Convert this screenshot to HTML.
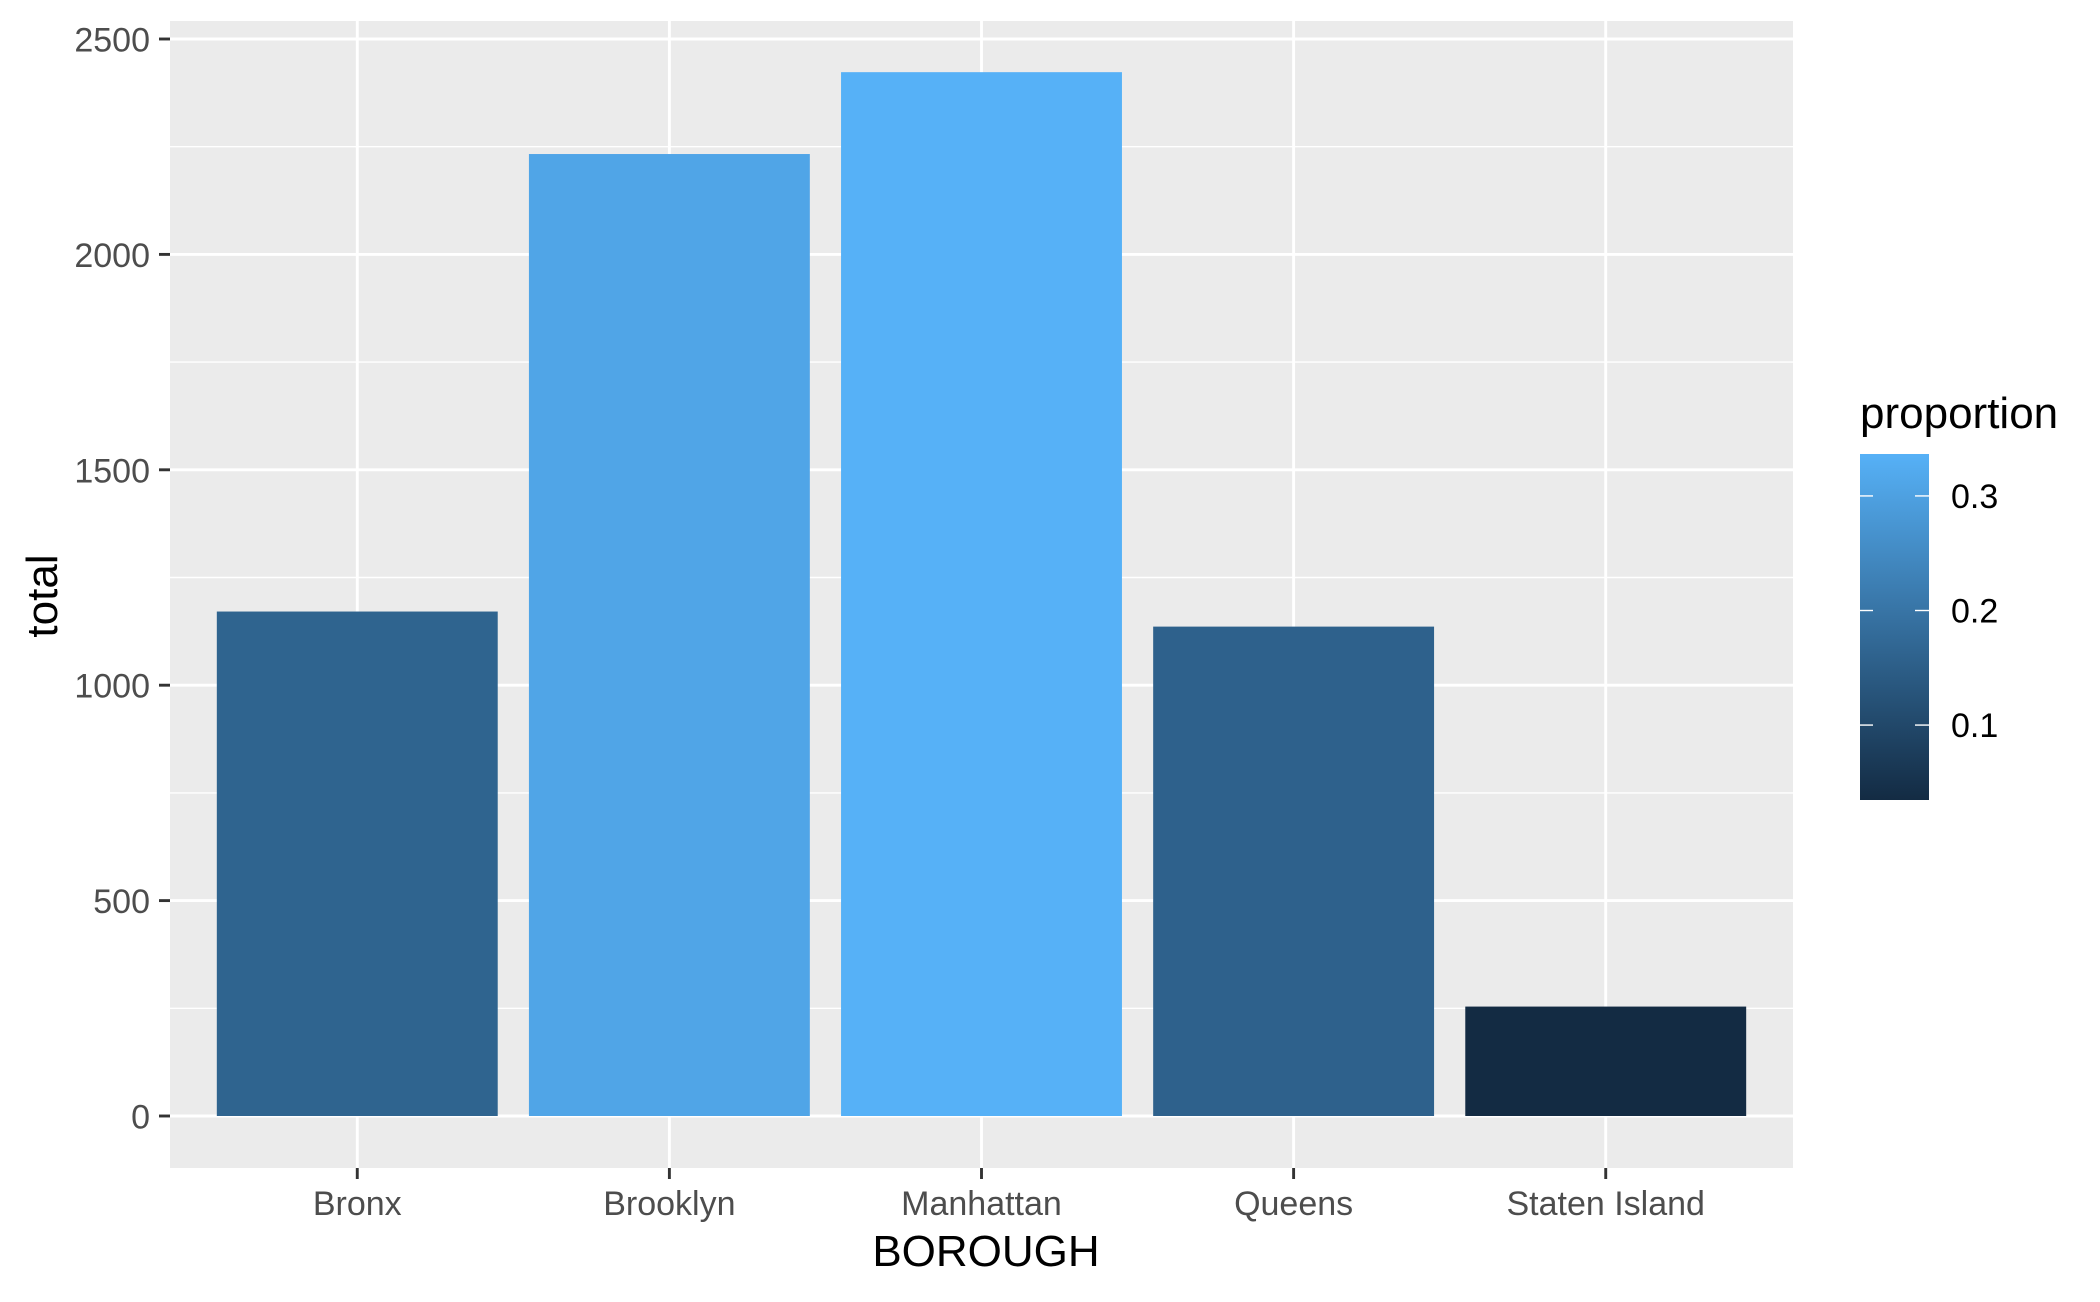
<!DOCTYPE html>
<html><head><meta charset="utf-8"><style>
html,body{margin:0;padding:0;background:#fff;}
svg text{font-family:"Liberation Sans",Arial,sans-serif;}
</style></head><body>
<svg id="chart" width="2100" height="1297" viewBox="0 0 2100 1297" xmlns="http://www.w3.org/2000/svg">
<rect x="170" y="21" width="1623" height="1147" fill="#ebebeb"/>
<g id="grid"></g><g id="bars"></g><g id="axes"></g>
<text x="986" y="1266" font-size="44" text-anchor="middle" fill="#000">BOROUGH</text>
<text transform="translate(57,596) rotate(-90)" font-size="44" text-anchor="middle" fill="#000">total</text>
<defs><linearGradient id="lg" x1="0" y1="1" x2="0" y2="0">
<stop offset="0" stop-color="#132B43"/><stop offset="1" stop-color="#56B1F7"/></linearGradient></defs>
<g id="legend">
<text x="1860" y="428" font-size="44" fill="#000">proportion</text>
<rect x="1860" y="454" width="69" height="346" fill="url(#lg)"/>
</g>
</svg>
<script>
const categories = ["Bronx","Brooklyn","Manhattan","Queens","Staten Island"];
const totals = [1171, 2233, 2423, 1136, 254];
const proportions = [0.162, 0.309, 0.336, 0.157, 0.035];
const yTicks = [0, 500, 1000, 1500, 2000, 2500];
const legendTicks = [0.1, 0.2, 0.3];
const NS = "http://www.w3.org/2000/svg";
const px0 = 170, px1 = 1793, py0 = 21, py1 = 1168;
const yScale = v => 1116 - v * (1077 / 2500);
const band = (px1 - px0) / 5.2;
const xScale = i => px0 + (i + 1 - 0.4) * band;
const pMin = 0.0346, pMax = 0.3366;
const c0 = [19,43,67], c1 = [86,177,247];
function color(p){ const t = Math.max(0, Math.min(1, (p - pMin) / (pMax - pMin)));
  return "rgb(" + c0.map((c,k)=>Math.round(c + t*(c1[k]-c))).join(",") + ")"; }
const lgY = p => 800 - (p - pMin) / (pMax - pMin) * 346;
function mk(tag, attrs, parent){ const e = document.createElementNS(NS, tag);
  for (const k in attrs) e.setAttribute(k, attrs[k]); parent.appendChild(e); return e; }
const grid = document.getElementById("grid"), bars = document.getElementById("bars"), axes = document.getElementById("axes"), legend = document.getElementById("legend");
for (let i = 0; i < yTicks.length - 1; i++) {
  const y = yScale((yTicks[i] + yTicks[i+1]) / 2);
  const l = mk("line", {x1:px0, x2:px1, y1:y, y2:y, stroke:"#fff", "stroke-width":1.4}, grid);
  
  
}
yTicks.forEach(v => {
  const y = yScale(v);
  const l = mk("line", {x1:px0, x2:px1, y1:y, y2:y, stroke:"#fff", "stroke-width":2.9}, grid);
  
  
  const t = mk("line", {x1:159, x2:170, y1:y, y2:y, stroke:"#333", "stroke-width":2.9}, axes);
  
  
  const tx = mk("text", {x:150, y:y+12.5, "font-size":34, "text-anchor":"end", fill:"#4d4d4d"}, axes);
  tx.textContent = v;
  
  
});
categories.forEach((c, i) => {
  const x = xScale(i);
  const l = mk("line", {x1:x, x2:x, y1:py0, y2:py1, stroke:"#fff", "stroke-width":2.9}, grid);
  
  
  const w = band * 0.9;
  const r = mk("rect", {x:x - w/2, y:yScale(totals[i]), width:w, height:yScale(0) - yScale(totals[i]), fill:color(proportions[i])}, bars);
  
  
  const t = mk("line", {x1:x, x2:x, y1:py1, y2:py1+11, stroke:"#333", "stroke-width":2.9}, axes);
  
  
  const tx = mk("text", {x:x, y:1215, "font-size":34, "text-anchor":"middle", fill:"#4d4d4d"}, axes);
  tx.textContent = c;
  
  
});
legendTicks.forEach(p => {
  const y = lgY(p);
  const a = mk("line", {x1:1860, x2:1873, y1:y, y2:y, stroke:"#fff", "stroke-width":1.4}, legend);
  
  
  const b = mk("line", {x1:1915, x2:1929, y1:y, y2:y, stroke:"#fff", "stroke-width":1.4}, legend);
  
  
  const tx = mk("text", {x:1951, y:y+12, "font-size":34, fill:"#000"}, legend);
  tx.textContent = p.toFixed(1);
  
  
});
</script>
</body></html>
